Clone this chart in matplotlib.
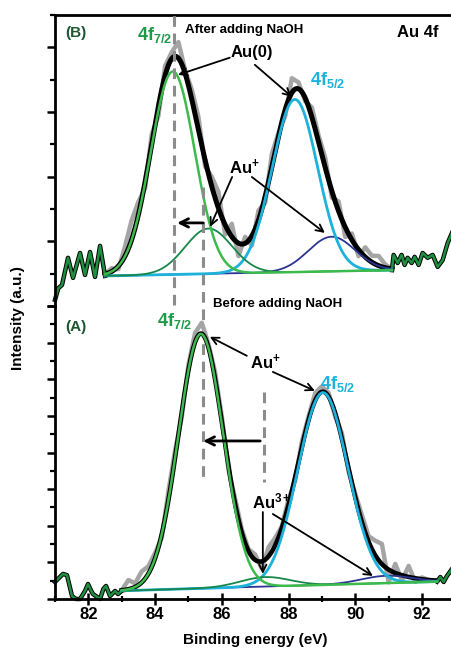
import numpy as np
import matplotlib
matplotlib.use('Agg')
import matplotlib.pyplot as plt
from matplotlib.ticker import MultipleLocator

plt.rcParams['font.family'] = ['Liberation Sans', 'DejaVu Sans']
plt.rcParams['font.weight'] = 'bold'
plt.rcParams['mathtext.fontset'] = 'custom'
plt.rcParams['mathtext.rm'] = 'Liberation Sans:bold'
plt.rcParams['mathtext.bf'] = 'Liberation Sans:bold'
plt.rcParams['mathtext.it'] = 'Liberation Sans:bold'

### data ###

# (B) after adding NaOH: fitted peaks  [Au(0) 4f7/2, Au+ 4f7/2, Au(0) 4f5/2, Au+ 4f5/2]
b_centers = [84.53, 85.60, 88.19, 89.29]
b_heights = [6.28, 1.40, 5.34, 1.07]
b_sigmas = [0.66, 0.70, 0.68, 0.70]
b_base_x = [82.5, 91.1]
b_base_y = [0.93, 1.11]
# measured points in the fit range, deviation from the envelope
b_meas_x = np.round(np.arange(82.5, 91.11, 0.2), 1)
b_meas_dev = [0.0, 0.1, -0.1, 0.3, 0.6, 0.4, -0.2, 0.3, -0.3, 0.3, 0.2, 0.5, 0.1, 0.3, 0.4,
              -0.2, 0.3, 0.5, -0.3, 0.4, -0.4, 0.2, -0.3, 0.3, -0.2, 0.4, 0.1, -0.2, 0.45, 0.2,
              -0.1, 0.3, 0.2, 0.3, -0.2, 0.3, -0.3, 0.2, -0.2, 0.3, 0.2, 0.3, 0.1, 0.0]
# raw spectrum outside the fit range
b_left_x = [81.0, 81.1, 81.21, 81.39, 81.54, 81.75, 81.9, 82.05, 82.2, 82.35, 82.5]
b_left_y = [0.19, 0.55, 0.65, 1.49, 0.87, 1.64, 0.96, 1.67, 0.9, 1.86, 0.93]
b_right_x = [91.1, 91.15, 91.27, 91.39, 91.48, 91.57, 91.69, 91.78, 91.9, 92.02, 92.17,
             92.32, 92.47, 92.62, 92.77, 92.9]
b_right_y = [1.11, 1.58, 1.33, 1.58, 1.27, 1.49, 1.33, 1.52, 1.27, 1.64, 1.49, 1.58, 1.21,
             1.42, 1.95, 2.26]

# (A) before adding NaOH: fitted peaks  [Au+ 4f7/2, Au3+ 4f7/2, Au+ 4f5/2, Au3+ 4f5/2]
a_centers = [85.37, 87.30, 89.03, 90.94]
a_heights = [13.9, 0.52, 10.5, 0.40]
a_sigmas = [0.67, 0.75, 0.75, 0.75]
a_base_x = [83.0, 92.45]
a_base_y = [0.45, 0.95]
a_meas_x = np.round(np.arange(83.0, 92.41, 0.2), 1)
a_meas_dev = [0.0, 0.5, 0.2, 0.6, 0.4, 0.3, -0.2, 0.5, 0.4, -0.3, 0.3, 0.5, 0.6, 0.2, 0.4,
              0.3, -0.2, 0.3, 0.2, 0.1, 0.3, -0.4, 0.5, 0.4, 0.1, 0.3, -0.2, 0.3, 0.2, 0.4,
              0.3, 0.2, -0.2, 0.3, -0.2, 0.2, 0.4, 0.3, 0.8, 1.1, -0.7, 0.5, -0.3, 0.6, -0.2,
              0.1, 0.0, 0.0]
a_left_x = [81.0, 81.12, 81.24, 81.36, 81.51, 81.63, 81.75, 81.9, 81.99, 82.07, 82.14,
            82.35, 82.45, 82.53, 82.65, 82.8, 82.89, 83.0]
a_left_y = [0.93, 1.15, 1.37, 1.3, 0.16, 0.0, 0.0, 0.44, 0.82, 0.5, 0.27, 0.0, 0.55, 0.71,
            0.16, 0.44, 0.27, 0.45]
a_right_x = [92.45, 92.55, 92.65, 92.75, 92.9]
a_right_y = [0.95, 1.2, 0.93, 1.26, 1.64]

xticks = [82, 84, 86, 88, 90, 92]

# colours: light green, dark green, cyan, navy
comp_colors = ['#3dba4c', '#17874a', '#1cb2dc', '#2b3592']
comp_lw = [1.8, 1.3, 2.0, 1.3]


def gauss(x, c, h, s):
    return h * np.exp(-(x - c) ** 2 / (2 * s ** 2))


def draw_panel(ax, centers, heights, sigmas, base_x, base_y, meas_x, meas_dev,
               lx, ly, rx, ry, env_lw):
    xx = np.linspace(base_x[0], base_x[1], 500)
    base = np.interp(xx, base_x, base_y)
    comps = [base + gauss(xx, c, h, s) for c, h, s in zip(centers, heights, sigmas)]
    env = base + sum(gauss(xx, c, h, s) for c, h, s in zip(centers, heights, sigmas))
    meas = np.interp(meas_x, xx, env) + np.array(meas_dev)
    ax.plot(meas_x, meas, color='#a5a5a5', lw=3.2, zorder=1, solid_joinstyle='round')
    ax.plot(xx, env, color='k', lw=env_lw, zorder=2)
    for i in [3, 2, 1, 0]:
        ax.plot(xx, comps[i], color=comp_colors[i], lw=comp_lw[i], zorder=3)
    for x, y in [(lx, ly), (rx, ry)]:
        ax.plot(x, y, color='k', lw=3.2, zorder=2, clip_on=False)
        ax.plot(x, y, color='#1e8f40', lw=1.8, zorder=2.5, clip_on=False)


fig = plt.figure(figsize=(4.52, 6.51), dpi=100)
ax_b = fig.add_axes([55 / 452, 1 - 306 / 651, 1 - 55 / 452, 291 / 651])
ax_a = fig.add_axes([55 / 452, 1 - 599 / 651, 1 - 55 / 452, 293 / 651])

draw_panel(ax_b, b_centers, b_heights, b_sigmas, b_base_x, b_base_y, b_meas_x, b_meas_dev,
           b_left_x, b_left_y, b_right_x, b_right_y, 3.6)
draw_panel(ax_a, a_centers, a_heights, a_sigmas, a_base_x, a_base_y, a_meas_x, a_meas_dev,
           a_left_x, a_left_y, a_right_x, a_right_y, 3.3)

for ax in (ax_a, ax_b):
    ax.set_facecolor('none')
    ax.set_xlim(81, 92.9)
    ax.spines['right'].set_visible(False)
    ax.spines['left'].set_linewidth(2)
    ax.yaxis.set_major_locator(MultipleLocator(2))
    ax.yaxis.set_minor_locator(MultipleLocator(1))
    ax.tick_params(axis='y', which='major', direction='out', length=6, width=1.8, labelleft=False)
    ax.tick_params(axis='y', which='minor', direction='out', length=3.5, width=1.6)

ax_b.set_ylim(0, 9)
ax_b.spines['bottom'].set_visible(False)
ax_b.spines['top'].set_linewidth(2)
ax_b.tick_params(axis='x', which='both', bottom=False, labelbottom=False)

ax_a.set_ylim(0, 16)
ax_a.spines['top'].set_visible(False)
ax_a.spines['bottom'].set_linewidth(2)
ax_a.set_xticks(xticks)
ax_a.xaxis.set_minor_locator(MultipleLocator(1))
ax_a.tick_params(axis='x', which='major', direction='inout', length=8, width=1.8,
                 labelsize=12, pad=2)
ax_a.tick_params(axis='x', which='minor', direction='inout', length=5, width=1.6)
for lab in ax_a.get_xticklabels():
    lab.set_fontweight('bold')

# dashed guide lines
dash = dict(color='#8c8c8c', lw=2.2, ls=(0, (3.5, 2.2)), zorder=4, clip_on=False)
ax_b.plot([84.56, 84.56], [0.03, 9], **dash)
ax_b.plot([85.44, 85.44], [3.68, -5.29], **dash)
ax_a.plot([87.25, 87.25], [11.3, 6.4], **dash)

arr = dict(arrowstyle='->', color='k', lw=1.3, shrinkA=0, shrinkB=0, mutation_scale=13)
arr2 = dict(arrowstyle='->', color='k', lw=2.0, shrinkA=0, shrinkB=0, mutation_scale=15)

# panel (B) labels
ax_b.text(81.3, 8.45, '(B)', color='#1e5631', fontsize=11, va='center', ha='left')
ax_b.text(83.45, 8.22, r'$\mathbf{4f_{7/2}}$', color='#1f9a48', fontsize=13, va='baseline')
ax_b.text(84.9, 8.55, 'After adding NaOH', fontsize=9.5, va='center')
ax_b.text(91.25, 8.45, 'Au 4f', fontsize=12, va='center')
ax_b.text(86.25, 7.83, 'Au(0)', fontsize=12, va='center', zorder=6)
ax_b.annotate('', xy=(84.69, 7.15), xytext=(86.24, 7.68), arrowprops=arr, zorder=6)
ax_b.annotate('', xy=(88.1, 6.47), xytext=(86.99, 7.46), arrowprops=arr, zorder=6)
ax_b.text(88.64, 6.84, r'$\mathbf{4f_{5/2}}$', color='#1cb2dc', fontsize=13, va='baseline')
ax_b.text(86.22, 4.3, r'$\mathbf{Au^{+}}$', fontsize=12, va='center')
ax_b.annotate('', xy=(85.65, 2.45), xytext=(86.31, 3.99), arrowprops=arr, zorder=6)
ax_b.annotate('', xy=(89.09, 2.26), xytext=(86.9, 3.99), arrowprops=arr, zorder=6)
ax_b.annotate('', xy=(84.66, 2.57), xytext=(85.44, 2.57), arrowprops=arr2, zorder=6)

# panel (A) labels
ax_a.text(85.74, 16.12, 'Before adding NaOH', fontsize=9.5, va='center')
ax_a.text(81.3, 14.86, '(A)', color='#1e5631', fontsize=11, va='center', ha='left')
ax_a.text(84.05, 14.92, r'$\mathbf{4f_{7/2}}$', color='#1f9a48', fontsize=13, va='baseline')
ax_a.text(86.84, 12.95, r'$\mathbf{Au^{+}}$', fontsize=12, va='center')
ax_a.annotate('', xy=(85.64, 14.32), xytext=(86.75, 13.28), arrowprops=arr, zorder=6)
ax_a.annotate('', xy=(88.79, 11.37), xytext=(87.53, 12.4), arrowprops=arr, zorder=6)
ax_a.text(88.94, 11.48, r'$\mathbf{4f_{5/2}}$', color='#1cb2dc', fontsize=13, va='baseline')
ax_a.annotate('', xy=(85.44, 8.63), xytext=(87.15, 8.63), arrowprops=arr2, zorder=6)
ax_a.text(86.9, 5.3, r'$\mathbf{Au^{3+}}$', fontsize=12, va='center')
ax_a.annotate('', xy=(87.23, 1.37), xytext=(87.23, 4.75), arrowprops=arr, zorder=6)
ax_a.annotate('', xy=(90.53, 1.26), xytext=(87.53, 4.64), arrowprops=arr, zorder=6)

fig.text(0.04, 0.511, 'Intensity (a.u.)', rotation=90, fontsize=11, ha='center', va='center')
fig.text(0.564, 0.017, 'Binding energy (eV)', fontsize=11, ha='center', va='center')

fig.savefig('out.png', dpi=100)
